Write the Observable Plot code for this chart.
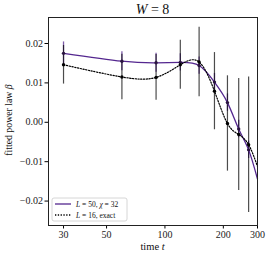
<!DOCTYPE html>
<html><head><meta charset="utf-8">
<script src="https://cdn.jsdelivr.net/npm/d3@7"></script>
<script src="https://cdn.jsdelivr.net/npm/@observablehq/plot@0.6"></script>
<style>body{margin:0;background:#fff;} svg{font-family:"Liberation Serif",serif;}</style>
</head><body><div id="chart"></div>
<script>
const times = [30, 60, 90, 120, 150, 180, 210, 240, 270, 300];
const betaMPS = [0.0175, 0.0155, 0.0151, 0.0152, 0.0144, 0.0102, 0.0050, -0.0017, -0.0070, -0.0144];
const errMPS = [0.0029, 0.0024, 0.0024, 0.0022, 0.0022, 0.0022, 0.0022, 0.0022, 0.0022, null];
const betaExact = [0.0146, 0.0115, 0.0114, 0.0146, 0.0153, 0.0079, -0.0003, -0.0031, -0.0057, -0.0112];
const errExact = [0.0049, 0.0058, 0.0058, 0.0062, 0.0088, 0.0098, 0.0121, 0.0142, 0.0172, null];
const xTicks = [30, 50, 100, 200, 300];
const yTicks = [-0.02, -0.01, 0, 0.01, 0.02];
const seriesNames = ["L = 50, χ = 32", "L = 16, exact"];

const purple = "#54278f";
const mps = times.map((t, i) => ({t, b: betaMPS[i], e: errMPS[i]}));
const ex = times.map((t, i) => ({t, b: betaExact[i], e: errExact[i]}));
const mL = 48, mR = 13, mT = 17, mB = 32, W = 270, H = 257;

const plot = Plot.plot({
  width: W, height: H,
  marginLeft: mL, marginRight: mR, marginTop: mT, marginBottom: mB,
  style: {fontFamily: '"Liberation Serif", serif', fontSize: "10px", background: "white", overflow: "visible"},
  x: {type: "log", domain: [25.1, 300]},
  y: {domain: [-0.0262, 0.0266]},
  marks: [
    Plot.axisX({ticks: xTicks, tickFormat: d => String(d), tickSize: 3.5, tickPadding: 2, label: null, fontSize: 10, fill: "#222"}),
    Plot.axisY({ticks: yTicks, tickFormat: d3.format(".2f"), tickSize: 3.5, tickPadding: 2, label: null, fontSize: 10, fill: "#222"}),
    Plot.ruleX(mps.filter(d => d.e != null), {x: "t", y1: d => d.b - d.e, y2: d => d.b + d.e, stroke: purple, strokeWidth: 1.3, strokeOpacity: 0.75}),
    Plot.ruleX(ex.filter(d => d.e != null), {x: "t", y1: d => d.b - d.e, y2: d => d.b + d.e, stroke: "#000", strokeWidth: 1.2, strokeOpacity: 0.7}),
    Plot.line(mps, {x: "t", y: "b", curve: "natural", stroke: purple, strokeWidth: 1.3}),
    Plot.line(ex, {x: "t", y: "b", curve: "natural", stroke: "black", strokeWidth: 1.2, strokeDasharray: "1.3,1.5"}),
    Plot.dot(mps.filter(d => d.e != null), {x: "t", y: "b", r: 1.7, fill: "#2a1440"}),
    Plot.dot(ex.filter(d => d.e != null), {x: "t", y: "b", r: 1.7, fill: "black"}),
    Plot.frame({stroke: "#222", strokeWidth: 1})
  ]
});
document.getElementById("chart").appendChild(plot);

const svg = d3.select(plot);
function addText(x, y, parts, size, rotate) {
  const t = svg.append("text").attr("x", x).attr("y", y).attr("dy", "0.35em")
    .attr("text-anchor", "middle").attr("font-size", size).attr("fill", "#111");
  if (rotate) t.attr("transform", `rotate(${rotate},${x},${y})`);
  parts.forEach(([s, it]) => t.append("tspan").attr("font-style", it ? "italic" : null).text(s));
  return t;
}
const cx = mL + (W - mL - mR) / 2, cy = mT + (H - mT - mB) / 2;
addText(cx, 9.5, [["W", true], [" = 8", false]], 14);
addText(cx, 246, [["time ", false], ["t", true]], 10.5);
addText(9, cy - 1, [["fitted power law ", false], ["β", true]], 9.8, -90);

// legend
const lg = svg.append("g");
const lx = mL + 4, ly = H - mB - 27, lw = 75, lh = 23;
lg.append("rect").attr("x", lx).attr("y", ly).attr("width", lw).attr("height", lh)
  .attr("rx", 2).attr("fill", "white").attr("fill-opacity", 0.85).attr("stroke", "#ccc").attr("stroke-width", 0.8);
const rows = [
  {name: seriesNames[0], stroke: purple, dash: null, parts: [["L", true], [" = 50, ", false], ["χ", true], [" = 32", false]]},
  {name: seriesNames[1], stroke: "black", dash: "1.3,1.5", parts: [["L", true], [" = 16, exact", false]]}
];
rows.forEach((r, i) => {
  const y = ly + 6 + i * 11;
  lg.append("line").attr("x1", lx + 3).attr("x2", lx + 19).attr("y1", y).attr("y2", y)
    .attr("stroke", r.stroke).attr("stroke-width", 1.3).attr("stroke-dasharray", r.dash);
  const t = lg.append("text").attr("x", lx + 24).attr("y", y).attr("dy", "0.35em")
    .attr("text-anchor", "start").attr("font-size", 7.5).attr("fill", "#111");
  r.parts.forEach(([s, it]) => t.append("tspan").attr("font-style", it ? "italic" : null).text(s));
});
</script>
</body></html>
